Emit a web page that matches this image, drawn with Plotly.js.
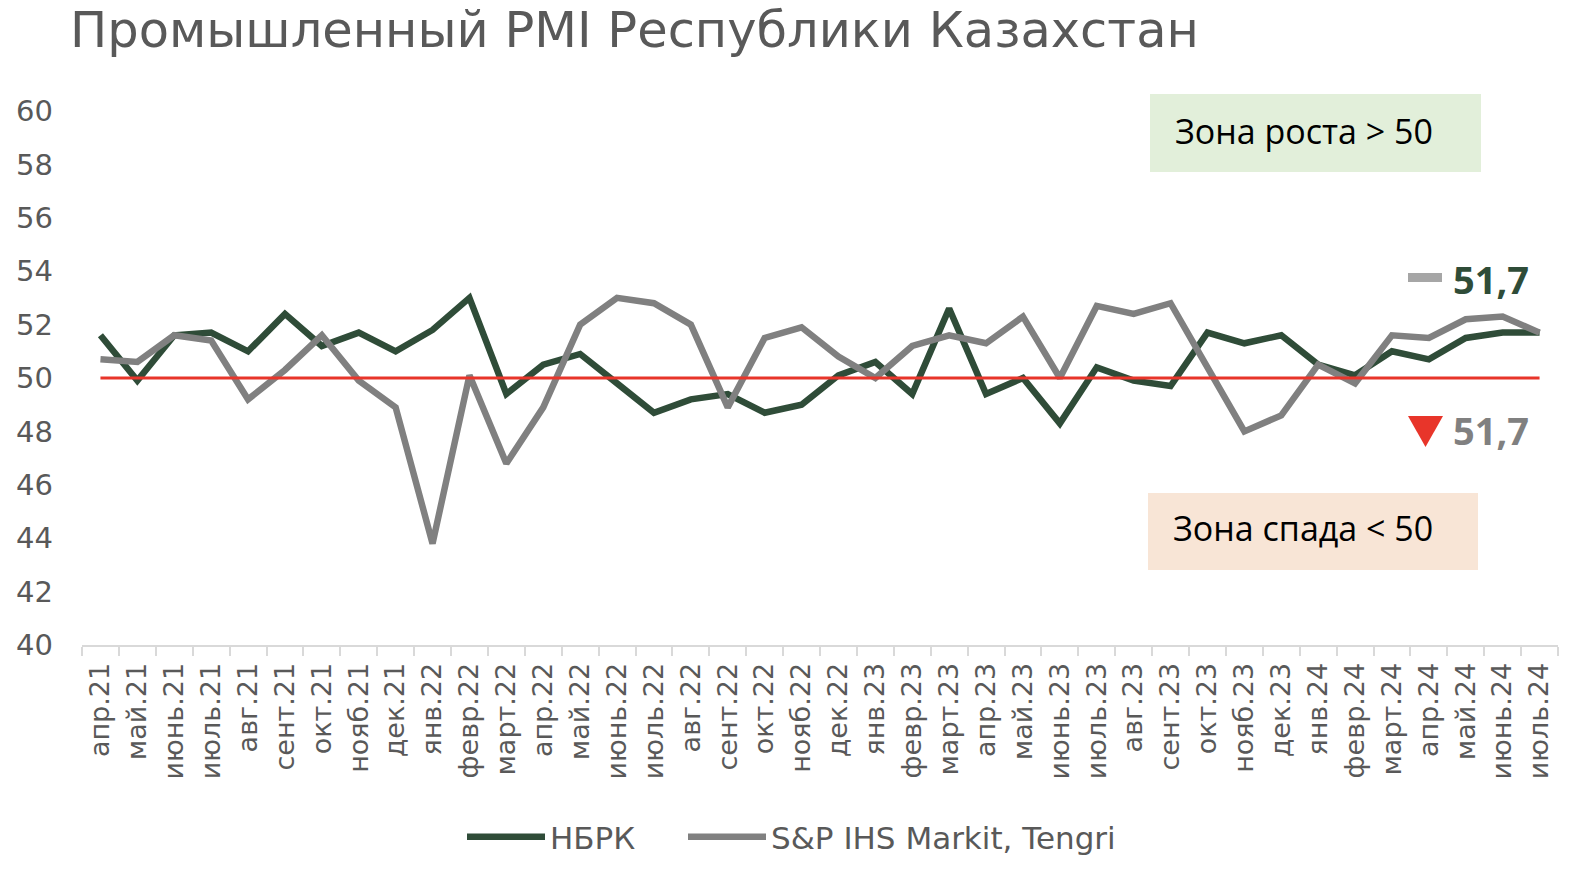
<!DOCTYPE html>
<html>
<head>
<meta charset="utf-8">
<script src="https://cdn.plot.ly/plotly-3.0.1.min.js"></script>
<style>
  html, body { margin: 0; padding: 0; background: #ffffff; }
  #chart { width: 1578px; height: 879px; }
</style>
</head>
<body>
<div id="chart"></div>
<script>
// ---- data ----
const months = ['апр.21','май.21','июнь.21','июль.21','авг.21','сент.21','окт.21','нояб.21','дек.21',
  'янв.22','февр.22','март.22','апр.22','май.22','июнь.22','июль.22','авг.22','сент.22','окт.22','нояб.22','дек.22',
  'янв.23','февр.23','март.23','апр.23','май.23','июнь.23','июль.23','авг.23','сент.23','окт.23','нояб.23','дек.23',
  'янв.24','февр.24','март.24','апр.24','май.24','июнь.24','июль.24'];

const nbrk = [51.6,49.9,51.6,51.7,51.0,52.4,51.2,51.7,51.0,
  51.8,53.0,49.4,50.5,50.9,49.8,48.7,49.2,49.4,48.7,49.0,50.1,
  50.6,49.4,52.6,49.4,50.0,48.3,50.4,49.9,49.7,51.7,51.3,51.6,
  50.5,50.1,51.0,50.7,51.5,51.7,51.7];

const spTengri = [50.7,50.6,51.6,51.4,49.2,50.3,51.6,49.9,48.9,
  43.8,50.1,46.8,48.9,52.0,53.0,52.8,52.0,48.9,51.5,51.9,50.8,
  50.0,51.2,51.6,51.3,52.3,50.0,52.7,52.4,52.8,50.4,48.0,48.6,
  50.5,49.8,51.6,51.5,52.2,52.3,51.7];

const seriesNames = ['НБРК', 'S&P IHS Markit, Tengri'];
const threshold = 50;
const yTicks = [40,42,44,46,48,50,52,54,56,58,60];
const zoneLabels = ['Зона роста > 50', 'Зона спада < 50'];

// ---- styles ----
const GREEN = '#2F4C38';
const GREY = '#808080';
const RED = '#E8352A';
const TXT = '#595959';
const FONT = 'DejaVu Sans, sans-serif';

const fmt = v => String(v.toFixed(1)).replace('.', ',');
const lastN = nbrk[nbrk.length - 1];
const lastS = spTengri[spTengri.length - 1];

const traces = [
  { x: months, y: nbrk, name: seriesNames[0], type: 'scatter', mode: 'lines', legend: 'legend',
    line: { color: GREEN, width: 6.5 }, hoverinfo: 'x+y' },
  { x: months, y: spTengri, name: seriesNames[1], type: 'scatter', mode: 'lines', legend: 'legend2',
    line: { color: GREY, width: 6.5 }, hoverinfo: 'x+y' }
];

// plot area in px: x 82..1558, y 111..645
const PL = 82, PR = 1558, PT = 111, PB = 645;
const px = v => (v - PL) / (PR - PL);
const py = v => 1 - (v - PT) / (PB - PT);

const legendBase = {
  orientation: 'h', xref: 'container', yref: 'container',
  xanchor: 'left', y: 1 - 837 / 879, yanchor: 'middle',
  font: { family: FONT, size: 31, color: TXT },
  itemwidth: 78, bgcolor: 'rgba(0,0,0,0)'
};

const layout = {
  width: 1578, height: 879,
  margin: { l: PL, r: 1578 - PR, t: PT, b: 879 - PB, pad: 0 },
  paper_bgcolor: '#ffffff', plot_bgcolor: '#ffffff',
  showlegend: true,
  title: {
    text: 'Промышленный PMI Республики Казахстан',
    font: { family: FONT, size: 49.5, color: TXT },
    x: 70 / 1578, xref: 'container', xanchor: 'left',
    y: 1 - 30 / 879, yref: 'container', yanchor: 'middle'
  },
  xaxis: {
    type: 'category', categoryorder: 'array', categoryarray: months,
    range: [-0.5, months.length - 0.5],
    tickangle: -90,
    tickfont: { family: FONT, size: 27, color: TXT },
    showline: true, linecolor: '#D9D9D9', linewidth: 2,
    ticks: 'outside', tickson: 'boundaries', ticklen: 9, tickcolor: '#D9D9D9', tickwidth: 2,
    ticklabelstandoff: 5,
    showgrid: false, zeroline: false, fixedrange: true
  },
  yaxis: {
    range: [40, 60], tickvals: yTicks, ticktext: yTicks.map(String),
    tickfont: { family: FONT, size: 29, color: TXT },
    showline: false, showgrid: false, zeroline: false, ticks: '',
    ticklabelstandoff: 28, fixedrange: true
  },
  legend: Object.assign({}, legendBase, { x: 462 / 1578 }),
  legend2: Object.assign({}, legendBase, { x: 683 / 1578 }),
  shapes: [
    // threshold line at 50
    { type: 'line', xref: 'x', yref: 'y', x0: 0, x1: months.length - 1, y0: threshold, y1: threshold,
      line: { color: RED, width: 3 }, layer: 'above' },
    // growth zone box
    { type: 'rect', xref: 'paper', yref: 'paper', x0: px(1150), x1: px(1481), y0: py(172), y1: py(94),
      fillcolor: '#E2EFDA', line: { width: 0 }, layer: 'below' },
    // decline zone box
    { type: 'rect', xref: 'paper', yref: 'paper', x0: px(1148), x1: px(1478), y0: py(570), y1: py(493),
      fillcolor: '#F8E5D6', line: { width: 0 }, layer: 'below' },
    // unchanged marker (grey dash)
    { type: 'rect', xref: 'paper', yref: 'paper', x0: px(1408), x1: px(1442), y0: py(282), y1: py(273),
      fillcolor: '#A6A6A6', line: { width: 0 }, layer: 'above' },
    // down marker (red triangle)
    { type: 'path', xref: 'paper', yref: 'paper',
      path: 'M ' + px(1408) + ',' + py(416) + ' L ' + px(1443) + ',' + py(416) + ' L ' + px(1425.5) + ',' + py(447) + ' Z',
      fillcolor: RED, line: { width: 0 }, layer: 'above' }
  ],
  annotations: [
    { xref: 'paper', yref: 'paper', x: px(1451), y: py(279), xanchor: 'left', yanchor: 'middle',
      text: '<b>' + fmt(lastN) + '</b>', showarrow: false,
      font: { family: 'Open Sans, sans-serif', size: 38, color: GREEN } },
    { xref: 'paper', yref: 'paper', x: px(1451), y: py(430), xanchor: 'left', yanchor: 'middle',
      text: '<b>' + fmt(lastS) + '</b>', showarrow: false,
      font: { family: 'Open Sans, sans-serif', size: 38, color: GREY } },
    { xref: 'paper', yref: 'paper', x: px(1173), y: py(131), xanchor: 'left', yanchor: 'middle',
      text: zoneLabels[0], showarrow: false,
      font: { family: 'Open Sans, sans-serif', size: 34, color: '#000000' } },
    { xref: 'paper', yref: 'paper', x: px(1171), y: py(528), xanchor: 'left', yanchor: 'middle',
      text: zoneLabels[1], showarrow: false,
      font: { family: 'Open Sans, sans-serif', size: 34, color: '#000000' } }
  ]
};

Plotly.newPlot('chart', traces, layout, { displayModeBar: false, staticPlot: true });
</script>
</body>
</html>
